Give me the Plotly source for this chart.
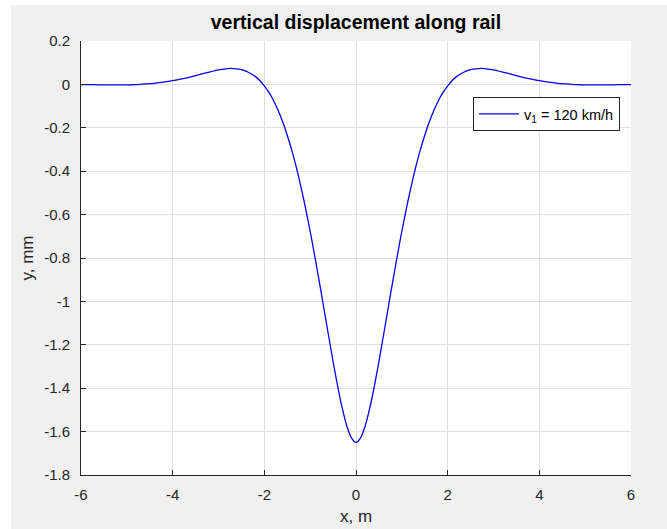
import plotly.graph_objects as go

# x positions along rail (m), right half; the curve is symmetric about x = 0
half_x = [0.0, 0.1, 0.2, 0.3, 0.4, 0.5, 0.6, 0.7, 0.8, 0.9, 1.0, 1.1, 1.2, 1.3, 1.4, 1.5,
          1.6, 1.7, 1.8, 1.9, 2.0, 2.1, 2.2, 2.3, 2.4, 2.5,
          2.6, 2.8, 3.0, 3.2, 3.4, 3.6, 3.8, 4.0, 4.2, 4.4, 4.6, 4.8, 5.0, 5.2, 5.4, 5.6, 5.8, 6.0]

# vertical displacement (mm)
half_y = [-1.650, -1.629, -1.574, -1.492, -1.391, -1.277, -1.156, -1.033, -0.910, -0.791,
          -0.677, -0.571, -0.473, -0.384, -0.304, -0.234, -0.172, -0.119, -0.074, -0.037,
          -0.007, 0.018, 0.037, 0.050, 0.061, 0.068,
          0.072, 0.073, 0.067, 0.057, 0.046, 0.035, 0.025, 0.017, 0.010, 0.005, 0.002,
          -0.001, -0.002, -0.002, -0.002, -0.002, -0.001, -0.001]

x_m = [-v for v in reversed(half_x[1:])] + half_x
y_mm = list(reversed(half_y[1:])) + half_y

x_ticks = [-6, -4, -2, 0, 2, 4, 6]
x_tick_text = ["-6", "-4", "-2", "0", "2", "4", "6"]
y_ticks = [0.2, 0, -0.2, -0.4, -0.6, -0.8, -1, -1.2, -1.4, -1.6, -1.8]
y_tick_text = ["0.2", "0", "-0.2", "-0.4", "-0.6", "-0.8", "-1", "-1.2", "-1.4", "-1.6", "-1.8"]

W, H = 667, 529
L, R, T, B = 81, 36, 41, 54
pw, ph = W - L - R, H - T - B

def px_x(p):
    return (p - L) / pw

def px_y(p):
    return (H - B - p) / ph

FONT = "Liberation Sans, Arial"

fig = go.Figure()
fig.add_trace(go.Scatter(
    x=x_m, y=y_mm, mode="lines",
    line=dict(color="rgb(0,0,255)", width=1.3, shape="spline", smoothing=0.6),
    name="v<sub>1</sub> = 120 km/h",
))

axis_common = dict(
    showgrid=True, gridcolor="#dfdfdf", gridwidth=1,
    zeroline=False, showline=True, linecolor="#262626", linewidth=1,
    ticks="inside", ticklen=5, tickcolor="#262626",
    tickfont=dict(family=FONT, size=15, color="#262626"),
    mirror=False, automargin=False,
)

fig.update_layout(
    width=W, height=H,
    margin=dict(l=L, r=R, t=T, b=B, pad=0),
    paper_bgcolor="#f0f0f0", plot_bgcolor="white",
    title=dict(text="<b>vertical displacement along rail</b>", x=px_x(356), xref="paper",
               xanchor="center", y=1 - 22 / H, yanchor="middle",
               font=dict(family=FONT, size=19.5, color="black")),
    xaxis=dict(range=[-6, 6], tickvals=x_ticks, ticktext=x_tick_text,
               ticklabelstandoff=6,
               title=dict(text="x, m", standoff=8,
                          font=dict(family=FONT, size=17, color="#262626")),
               **axis_common),
    yaxis=dict(range=[-1.8, 0.2], tickvals=y_ticks, ticktext=y_tick_text,
               ticklabelstandoff=7,
               title=dict(text="y, mm", standoff=6,
                          font=dict(family=FONT, size=17, color="#262626")),
               **axis_common),
    showlegend=True,
    legend=dict(x=px_x(620), xanchor="right", y=px_y(97), yanchor="top",
                bgcolor="white", bordercolor="#262626", borderwidth=1,
                font=dict(family=FONT, size=14.5, color="black"),
                itemwidth=40),
    shapes=[
        dict(type="rect", xref="paper", yref="paper", x0=px_x(-2), x1=px_x(11),
             y0=px_y(H + 2), y1=px_y(-2), fillcolor="white", line=dict(width=0), layer="below"),
        dict(type="rect", xref="paper", yref="paper", x0=px_x(-2), x1=px_x(W + 2),
             y0=px_y(5), y1=px_y(-2), fillcolor="white", line=dict(width=0), layer="below"),
    ],
)

fig.write_html("out.html")
